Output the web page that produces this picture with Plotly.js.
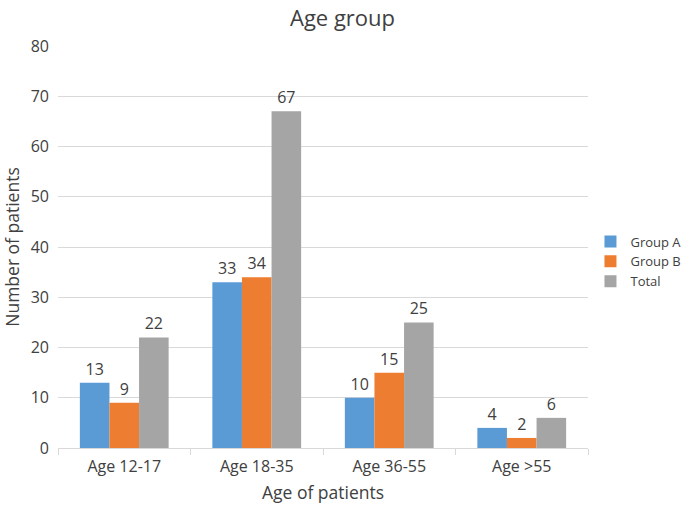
<!DOCTYPE html>
<html><head><meta charset="utf-8">
<script src="https://cdn.plot.ly/plotly-3.0.1.min.js"></script>
<style>html,body{margin:0;padding:0;background:#fff}</style>
</head><body><div id="chart" style="width:685px;height:505px"></div>
<script>
const categories = ["Age 12-17", "Age 18-35", "Age 36-55", "Age >55"];
const groupA = [13, 33, 10, 4];
const groupB = [9, 34, 15, 2];
const total = [22, 67, 25, 6];
const seriesNames = ["Group A", "Group B", "Total"];
const colors = ["#5B9BD5", "#ED7D31", "#A5A5A5"];
const font = "'Open Sans', 'Noto Sans', sans-serif";

const data = [groupA, groupB, total].map((vals, i) => ({
  type: "bar", name: seriesNames[i], x: categories, y: vals,
  marker: {color: colors[i]},
  text: vals.map(String), textposition: "outside", cliponaxis: false,
  textfont: {family: font, size: 16, color: "#404040"},
  hoverinfo: "none"
}));

const layout = {
  width: 685, height: 505,
  margin: {l: 58, r: 97, t: 46, b: 57, autoexpand: false},
  paper_bgcolor: "#fff", plot_bgcolor: "#fff",
  font: {family: font, color: "#595959"},
  title: {text: "Age group", font: {family: font, size: 22, color: "#404040"}, x: 0.5, xanchor: "center", yref: "container", y: 0.964, yanchor: "middle"},
  barmode: "group", bargap: 0.33, bargroupgap: 0,
  xaxis: {
    showgrid: false, showline: true, linecolor: "#D9D9D9", linewidth: 1,
    ticks: "outside", ticklen: 6, tickcolor: "#D9D9D9", tickson: "boundaries",
    ticklabelstandoff: 4,
    tickfont: {family: font, size: 16, color: "#404040"},
    title: {text: "Age of patients", font: {family: font, size: 17.5, color: "#404040"}, standoff: 10}
  },
  yaxis: {
    range: [0, 80], dtick: 10, showgrid: true, gridcolor: "#D9D9D9", gridwidth: 1,
    zeroline: false, showline: false, ticks: "",
    ticklabelstandoff: 8,
    tickfont: {family: font, size: 16, color: "#404040"},
    title: {text: "Number of patients", font: {family: font, size: 17.5, color: "#404040"}, standoff: 8}
  },
  legend: {xref: "container", x: 0.862, xanchor: "left", y: 0.464, yanchor: "middle",
    font: {family: font, size: 13, color: "#404040"}, tracegroupgap: 0, itemwidth: 30},
  showlegend: true
};
Plotly.newPlot("chart", data, layout, {displayModeBar: false, staticPlot: true});
</script></body></html>
